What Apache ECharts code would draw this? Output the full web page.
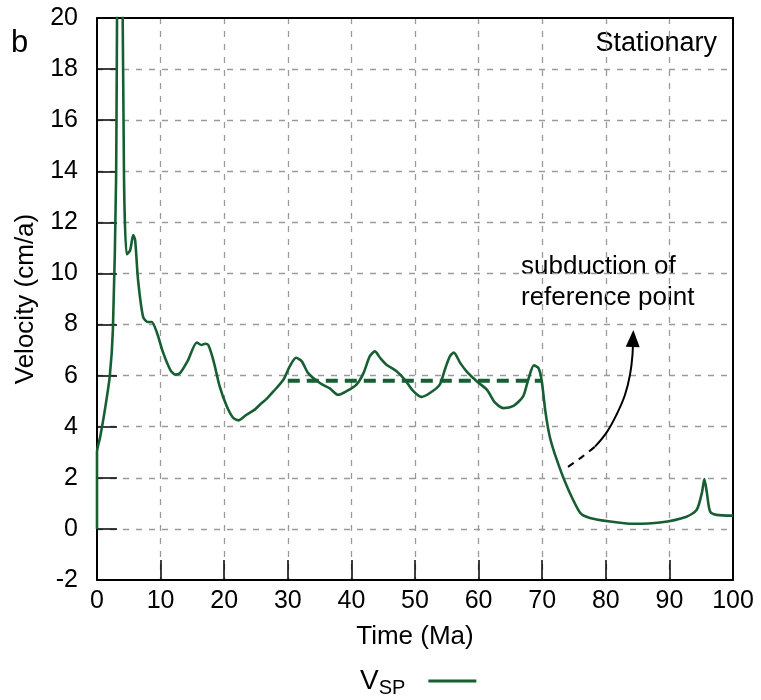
<!DOCTYPE html>
<html>
<head>
<meta charset="utf-8">
<script src="https://cdn.jsdelivr.net/npm/echarts@6/dist/echarts.min.js"></script>
<style>
	html, body { margin: 0; padding: 0; background: #fff; }
	#chart { width: 761px; height: 700px; }
</style>
</head>
<body>
<div id="chart"></div>
<script>
// V_SP curve: [time (Ma), velocity (cm/a)]
const vspTime = [0, 0, 0.5, 1.2, 2.0, 2.5, 3.0, 3.5, 4.25, 4.67, 5.2, 5.7, 6.0, 6.45, 7.25, 8.0, 8.6, 9.4, 10.4, 11.5, 12.3, 13.05, 14.3, 15.7, 16.4, 17.0, 17.5, 18.3, 19.3, 20.4, 21.4, 22.2, 23.5, 24.8, 25.6, 26.7, 27.7, 29.3, 30.3, 31.3, 32.2, 33.2, 35.1, 36.6, 37.9, 39.3, 40.8, 41.9, 42.9, 43.7, 44.5, 45.5, 47.1, 48.4, 49.7, 51.0, 52.4, 53.9, 54.7, 55.5, 56.1, 57.1, 58.1, 59.7, 61.3, 62.6, 63.9, 65.5, 67.0, 67.8, 68.7, 69.4, 69.9, 70.5, 71.2, 72.3, 73.9, 76.0, 77.5, 80.7, 84.3, 88.5, 92.7, 94.3, 95.1, 95.5, 95.9, 96.4, 97.4, 100];
const vspValue = [0, 3.0, 3.6, 4.6, 5.96, 7.8, 13.7, 35, 13.7, 10.75, 10.9, 11.5, 11.3, 9.76, 8.3, 8.1, 8.1, 7.7, 6.9, 6.24, 6.04, 6.1, 6.6, 7.3, 7.2, 7.25, 7.2, 6.6, 5.57, 4.8, 4.35, 4.25, 4.47, 4.67, 4.86, 5.1, 5.37, 5.84, 6.36, 6.7, 6.56, 6.1, 5.7, 5.5, 5.25, 5.4, 5.65, 6.1, 6.76, 6.95, 6.7, 6.43, 6.17, 5.84, 5.4, 5.17, 5.33, 5.65, 6.24, 6.76, 6.9, 6.5, 6.17, 5.78, 5.45, 4.94, 4.73, 4.82, 5.19, 5.84, 6.4, 6.3, 5.84, 4.6, 3.6, 2.7, 1.66, 0.62, 0.43, 0.29, 0.2, 0.25, 0.48, 0.75, 1.4, 1.95, 1.4, 0.68, 0.55, 0.52];

// mean velocity over 30-70 Ma
const meanTime = [30, 70];
const meanValue = [5.8, 5.8];

// arrow "subduction of reference point" (dashed start, solid end with head)
const arrowDashTime = [74.06, 76.26, 78.3];
const arrowDashValue = [2.43, 2.82, 3.22];
const arrowTime = [78.3, 80.19, 81.76, 83.02, 83.81, 84.2, 84.28];
const arrowValue = [3.22, 3.8, 4.51, 5.25, 6.04, 6.82, 7.45];

const xTicks = { min: 0, max: 100, interval: 10 };
const yTicks = { min: -2, max: 20, interval: 2 };

const green = "#175f33";
const font = "Liberation Sans, Arial, Helvetica, sans-serif";

function pairs(xs, ys) {
	return xs.map((x, i) => [x, ys[i]]);
}

function velocityChart() {
	let dom = document.getElementById("chart");
	let myChart = echarts.init(dom, null, { renderer: "canvas" });

	let arrowData = pairs(arrowTime, arrowValue).map((p, i) => {
		if (i === arrowTime.length - 1) {
			return { value: p, symbol: "triangle", symbolSize: [14, 17], symbolRotate: -2 };
		}
		return { value: p, symbol: "none" };
	});

	// dashed grid lines, but not on the frame
	let gridLine = { show: true, showMinLine: false, showMaxLine: false, lineStyle: { color: "#9a9a9a", width: 1.3, type: [6, 7] } };
	let frameAxis = {
		type: "value",
		axisLine: { show: true, onZero: false, lineStyle: { color: "#000", width: 2 } },
		axisTick: { show: false },
		axisLabel: { show: false },
		splitLine: { show: false },
	};

	let option = {
		animation: false,
		backgroundColor: "#fff",
		grid: {
			left: 97,
			right: 28,
			top: 18,
			bottom: 120,
		},
		legend: {
			left: 355,
			top: 662,
			data: ["V_SP"],
			align: "right",
			icon: "rect",
			itemWidth: 48,
			itemHeight: 3,
			formatter: function () {
				return "{v|V}{s|SP}{g|}";
			},
			textStyle: {
				rich: {
					v: { fontFamily: font, fontSize: 28, color: "#000" },
					s: { fontFamily: font, fontSize: 20, color: "#000", verticalAlign: "bottom", padding: [14, 0, 0, 0] },
					g: { width: 18 },
				},
			},
		},
		xAxis: [
			{
				type: "value",
				min: xTicks.min,
				max: xTicks.max,
				interval: xTicks.interval,
				name: "Time (Ma)",
				nameLocation: "middle",
				nameGap: 57,
				nameTextStyle: { fontFamily: font, fontSize: 26, color: "#000", verticalAlign: "middle" },
				axisLine: { show: true, onZero: false, lineStyle: { color: "#000", width: 2 } },
				axisTick: { show: true, inside: true, length: 20, lineStyle: { color: "#000", width: 1.5 } },
				axisLabel: { fontFamily: font, fontSize: 25, color: "#000", margin: 9 },
				splitLine: gridLine,
			},
			Object.assign({ position: "top", min: xTicks.min, max: xTicks.max }, frameAxis),
		],
		yAxis: [
			{
				type: "value",
				min: yTicks.min,
				max: yTicks.max,
				interval: yTicks.interval,
				name: "Velocity (cm/a)",
				nameLocation: "middle",
				nameGap: 71,
				nameTextStyle: { fontFamily: font, fontSize: 26, color: "#000", verticalAlign: "middle" },
				axisLine: { show: true, onZero: false, lineStyle: { color: "#000", width: 2 } },
				axisTick: { show: true, inside: true, length: 20, lineStyle: { color: "#000", width: 1.5 } },
				axisLabel: { fontFamily: font, fontSize: 25, color: "#000", margin: 19 },
				splitLine: gridLine,
			},
			Object.assign({ position: "right", min: yTicks.min, max: yTicks.max }, frameAxis),
		],
		graphic: [
			{ type: "text", left: 11, top: 28, style: { text: "b", font: "31px " + font, fill: "#000" } },
			{ type: "text", right: 44, top: 30, style: { text: "Stationary", font: "27px " + font, fill: "#000" } },
			{ type: "text", left: 521, top: 251, style: { text: "subduction of\nreference point", font: "26px " + font, fill: "#000", lineHeight: 31 } },
		],
		series: [
			{
				name: "V_SP",
				type: "line",
				data: pairs(vspTime, vspValue),
				showSymbol: false,
				symbol: "none",
				smooth: 0.25,
				clip: true,
				lineStyle: { color: green, width: 2.6 },
				itemStyle: { color: green },
				z: 3,
			},
			{
				name: "mean",
				type: "line",
				data: pairs(meanTime, meanValue),
				symbol: "none",
				lineStyle: { color: green, width: 4, type: [12, 7] },
				z: 4,
			},
			{
				name: "arrowDash",
				type: "line",
				data: pairs(arrowDashTime, arrowDashValue),
				symbol: "none",
				smooth: 0.4,
				lineStyle: { color: "#000", width: 2, type: [7, 6] },
			},
			{
				name: "arrow",
				type: "line",
				data: arrowData,
				smooth: 0.4,
				lineStyle: { color: "#000", width: 2 },
				itemStyle: { color: "#000" },
			},
		],
	};

	myChart.setOption(option);
	window.addEventListener("resize", myChart.resize);
}

velocityChart();
</script>
</body>
</html>
